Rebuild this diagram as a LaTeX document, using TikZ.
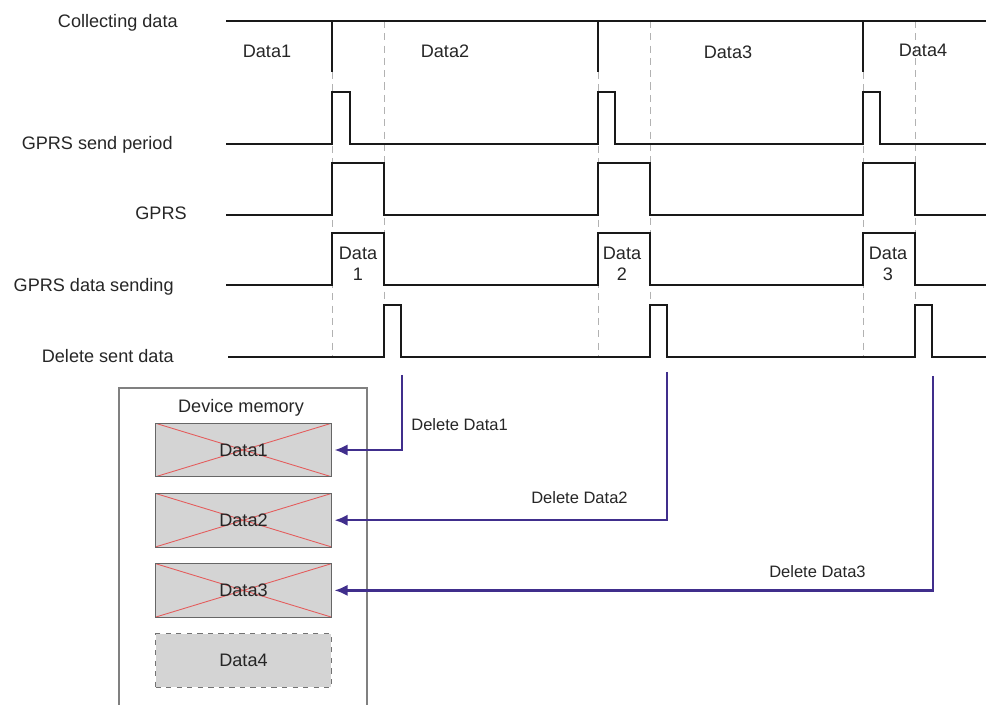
\documentclass[tikz,border=0pt]{standalone}
\usepackage{fontspec}
\setmainfont{Liberation Sans}
\usetikzlibrary{positioning,arrows.meta}
\definecolor{delpurple}{RGB}{64,46,140}
\definecolor{memgray}{RGB}{212,212,212}
\definecolor{crossred}{RGB}{228,92,92}

\begin{document}
\begin{tikzpicture}[x=0.02cm, y=-0.02cm, node distance=0.32cm,
    signal/.style={line width=1.4pt, line join=miter, black!90},
    guide/.style={black!30, dash pattern=on 4pt off 3pt, line width=0.5pt},
    lbl/.style={inner sep=0pt, text=black!85, font=\fontsize{10.3}{11.9}\selectfont},
    dlbl/.style={inner sep=0pt, text=black!85, font=\fontsize{9.4}{11}\selectfont},
    memcell/.style={draw=black!60, fill=memgray, text=black!85, minimum width=3.52cm, minimum height=1.07cm, inner sep=0pt, font=\fontsize{10.3}{11.9}\selectfont},
    memdel/.style={memcell, path picture={\draw[crossred, line width=0.5pt]
        (path picture bounding box.north west) -- (path picture bounding box.south east)
        (path picture bounding box.south west) -- (path picture bounding box.north east);}},
    delarrow/.style={delpurple, line width=1.4pt, -{Latex[length=7.5pt,width=6.5pt]}, shorten >=1.5pt}]
    \useasboundingbox (0,0) rectangle (986,705);

    % Linie pomocnicze (przerywane)
    \foreach \t in {332,598,863} \draw[guide] (\t,72) -- (\t,358);
    \foreach \t in {384,650,915} \draw[guide] (\t,21) -- (\t,358);

    % Przebiegi sygnałów
    \draw[signal] (226,21) -- (986,21);
    \foreach \t in {332,598,863} \draw[signal] (\t,21) -- (\t,72);
    \draw[signal] (226,144) \foreach \a/\b in {332/350,598/615,863/880} { -- (\a,144) -- (\a,92) -- (\b,92) -- (\b,144) } -- (986,144);
    \draw[signal] (226,215) \foreach \a/\b in {332/384,598/650,863/915} { -- (\a,215) -- (\a,163) -- (\b,163) -- (\b,215) } -- (986,215);
    \draw[signal] (226,285) \foreach \a/\b in {332/384,598/650,863/915} { -- (\a,285) -- (\a,233) -- (\b,233) -- (\b,285) } -- (986,285);
    \draw[signal] (228,357) \foreach \a/\b in {384/401,650/667,915/932} { -- (\a,357) -- (\a,305) -- (\b,305) -- (\b,357) } -- (986,357);

    % Opisy sygnałów
    \node[lbl, anchor=base east] (lcollect) at (178,28) {Collecting data};
    \node[lbl, anchor=base east] (lperiod) at (173,150) {GPRS send period};
    \node[lbl, anchor=base east] (lgprs) at (187,220) {GPRS};
    \node[lbl, anchor=base east] (lsend) at (174,292) {GPRS data sending};
    \node[lbl, anchor=base east] (ldelete) at (174,362) {Delete sent data};

    % Porcje danych
    \node[lbl, anchor=base] (col1) at (267,58) {Data1};
    \node[lbl, anchor=base] (col2) at (445,58) {Data2};
    \node[lbl, anchor=base] (col3) at (728,59) {Data3};
    \node[lbl, anchor=base] (col4) at (923,57) {Data4};
    \node[lbl, align=center] (tx1) at (358,264) {Data\\1};
    \node[lbl, align=center] (tx2) at (622,264) {Data\\2};
    \node[lbl, align=center] (tx3) at (888,264) {Data\\3};

    % Pamięć urządzenia
    \draw[black!50, line width=0.6pt] (119,705) |- (367,388) -- (367,705);
    \node[lbl, anchor=base] (memtitle) at (241,412) {Device memory};
    \node[memdel] (mem1) at (243.5,450) {Data1};
    \node[memdel, below=of mem1] (mem2) {Data2};
    \node[memdel, below=of mem2] (mem3) {Data3};
    \node[memcell, draw=black!55, dashed, below=of mem3] (mem4) {Data4};

    % Usuwanie wysłanych danych
    \coordinate (del1) at (402,375);
    \coordinate (del2) at (667,372);
    \coordinate (del3) at (933,376);
    \draw[delarrow] (del1) |- (mem1.east);
    \draw[delarrow] (del2) |- (mem2.east);
    \draw[delarrow] (del3) |- (mem3.east);
    \node[dlbl, anchor=base west] (dtxt1) at (411,430) {Delete Data1};
    \node[dlbl, anchor=base east] (dtxt2) at (628,503) {Delete Data2};
    \node[dlbl, anchor=base east] (dtxt3) at (866,577) {Delete Data3};
\end{tikzpicture}
\end{document}
